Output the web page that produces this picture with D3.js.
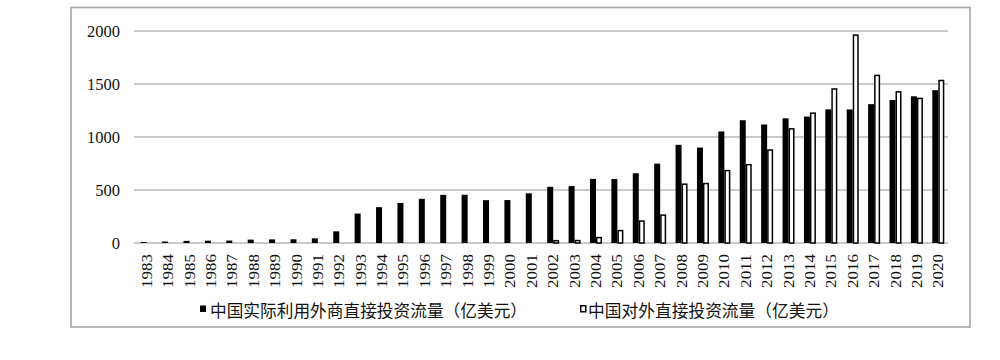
<!DOCTYPE html>
<html><head><meta charset="utf-8">
<script src="https://cdn.jsdelivr.net/npm/d3@7"></script>
<style>body{margin:0;background:#fff}svg{display:block}</style>
</head><body><svg id="c" width="1000" height="360"></svg>
<script>
const years = ["1983","1984","1985","1986","1987","1988","1989","1990","1991","1992","1993","1994","1995","1996","1997","1998","1999","2000","2001","2002","2003","2004","2005","2006","2007","2008","2009","2010","2011","2012","2013","2014","2015","2016","2017","2018","2019","2020"];
const fdi = [9,14,20,22,23,32,34,35,44,110,278,338,378,417,454,455,404,405,469,530,537,605,604,658,749,926,900,1052,1158,1118,1176,1193,1261,1260,1310,1349,1384,1442];
const odi = [null,null,null,null,null,null,null,null,null,null,null,null,null,null,null,null,null,null,null,29,30,58,124,214,270,562,568,690,746,884,1084,1232,1460,1968,1588,1433,1371,1540];
const yTicks = [0,500,1000,1500,2000];
const legendLabels = ["中国实际利用外商直接投资流量（亿美元）","中国对外直接投资流量（亿美元）"];

const svg = d3.select("#c");
// outer frame
svg.append("rect").attr("x",71).attr("y",7.5).attr("width",899).attr("height",319.5)
  .attr("fill","none").attr("stroke","#a6a6a6").attr("stroke-width",1.6);

const x = d3.scaleBand().domain(years).range([135,948]).padding(0);
const y = d3.scaleLinear().domain([0,2000]).range([243,31]);

// gridlines
svg.append("g").selectAll("line").data(yTicks).join("line")
  .attr("x1",134).attr("x2",948).attr("y1",d=>y(d)).attr("y2",d=>y(d))
  .attr("stroke","#b8b8b8").attr("stroke-width",1.5);

// y tick labels
svg.append("g").selectAll("text").data(yTicks).join("text")
  .attr("x",120).attr("y",d=>y(d)).attr("dy","0.36em").attr("text-anchor","end")
  .attr("font-family","Liberation Serif").attr("font-size",16.5).attr("fill","#111")
  .text(d=>d);

const bw = x.bandwidth();
const barW = 6;
// FDI bars (black)
svg.append("g").selectAll("rect").data(years).join("rect")
  .attr("x",(d)=>x(d)+bw/2-barW+1)
  .attr("y",(d,i)=>y(fdi[i]))
  .attr("width",barW)
  .attr("height",(d,i)=>y(0)-y(fdi[i]))
  .attr("fill","#000");
// ODI bars (white w/ black stroke)
svg.append("g").selectAll("rect").data(years.filter((d,i)=>odi[i]!=null)).join("rect")
  .attr("x",(d)=>x(d)+bw/2+1.75)
  .attr("y",(d)=>y(odi[years.indexOf(d)])+0.75)
  .attr("width",barW-1.5)
  .attr("height",(d)=>y(0)-y(odi[years.indexOf(d)])-0.75)
  .attr("fill","#fff").attr("stroke","#000").attr("stroke-width",1.5);

// x labels
svg.append("g").selectAll("text").data(years).join("text")
  .attr("transform",d=>`translate(${x(d)+bw/2+1},254) rotate(-90)`)
  .attr("dy","0.36em").attr("text-anchor","end")
  .attr("font-family","Liberation Serif").attr("font-size",14).attr("fill","#111")
  .attr("textLength",34).attr("lengthAdjust","spacingAndGlyphs")
  .text(d=>d);

// legend
const lg = svg.append("g");
lg.append("rect").attr("x",200).attr("y",305.5).attr("width",6).attr("height",6.5).attr("fill","#000");
lg.append("text").attr("x",210).attr("y",311).attr("dy","0.36em")
  .attr("font-family","Noto Sans CJK SC").attr("font-size",16.5).attr("fill","#111")
  .attr("textLength",317).attr("lengthAdjust","spacingAndGlyphs").text(legendLabels[0]);
lg.append("rect").attr("x",580.75).attr("y",305.75).attr("width",5).attr("height",6)
  .attr("fill","#fff").attr("stroke","#000").attr("stroke-width",1.5);
lg.append("text").attr("x",588).attr("y",311).attr("dy","0.36em")
  .attr("font-family","Noto Sans CJK SC").attr("font-size",16.5).attr("fill","#111")
  .attr("textLength",251).attr("lengthAdjust","spacingAndGlyphs").text(legendLabels[1]);
</script></body></html>
